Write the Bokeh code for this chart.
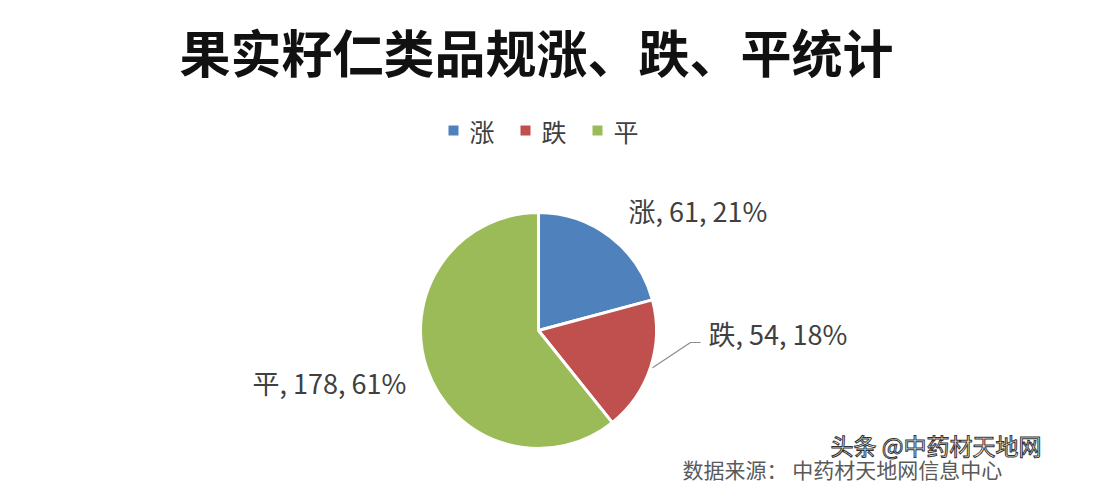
import math
from bokeh.plotting import figure
from bokeh.models import Range1d, ColumnDataSource
from bokeh.embed import file_html
from bokeh.resources import INLINE
from bokeh.core.properties import value

# ---- data ----
title_text = "果实籽仁类品规涨、跌、平统计"
categories = ["涨", "跌", "平"]
counts = [61, 54, 178]
colors = ["#4F81BD", "#C0504D", "#9BBB59"]
source_note = "数据来源： 中药材天地网信息中心"
watermark = "头条 @中药材天地网"

FONT = value("Noto Sans CJK SC")
W, H = 1084, 486


def px(x, y):
    # screenshot pixel -> data coordinates (y up)
    return (x, H - y)


p = figure(width=W, height=H, x_range=Range1d(0, W), y_range=Range1d(0, H),
           output_backend="svg", toolbar_location=None, min_border=0,
           x_axis_location=None, y_axis_location=None)
p.grid.visible = False
p.outline_line_color = None
p.background_fill_color = "white"
p.border_fill_color = "white"

# ---- title ----
tx, ty = px(536, 50)
p.text(x=[tx], y=[ty], text=[title_text], text_font=FONT, text_font_style="bold",
       text_font_size="51px", text_color="#111111", text_align="center",
       text_baseline="middle")

# ---- legend ----
lx0, ly = px(453, 130)
for i, (cat, col) in enumerate(zip(categories, colors)):
    x = lx0 + 72 * i
    p.rect(x=[x], y=[ly], width=10, height=10, fill_color=col, line_color=None)
    p.text(x=[x + 16], y=[ly], text=[cat], text_font=FONT, text_font_size="25px",
           text_color="#404040", text_align="left", text_baseline="middle")

# ---- pie ----
cx, cy = px(538, 330)
R = 118
total = sum(counts)
cum = [0]
for c in counts:
    cum.append(cum[-1] + c / total)
starts = [math.pi / 2 - 2 * math.pi * cum[i + 1] for i in range(len(counts))]
ends = [math.pi / 2 - 2 * math.pi * cum[i] for i in range(len(counts))]
src = ColumnDataSource(dict(start=starts, end=ends, color=colors))
p.wedge(x=cx, y=cy, radius=R, start_angle="start", end_angle="end",
        fill_color="color", line_color="white", line_width=3, source=src)

# ---- data labels ----
labels = [f"{cat}, {c}, {round(100 * c / total)}%" for cat, c in zip(categories, counts)]
mids = [(ends[i] + starts[i]) / 2 for i in range(len(counts))]
LBL = dict(text_font=FONT, text_font_size="27px", text_color="#404040",
           text_baseline="middle")

bx, by = px(628, 210)
p.text(x=[bx], y=[by], text=[labels[0]], text_align="left", **LBL)

ex, ey = cx + (R + 2) * math.cos(mids[1]), cy + (R + 2) * math.sin(mids[1])
rlx, rly = px(708, 333)
p.line(x=[ex, rlx - 18, rlx - 8], y=[ey, rly - 9, rly - 9], line_color="#8c8c8c", line_width=1.2)
p.text(x=[rlx], y=[rly], text=[labels[1]], text_align="left", **LBL)

glx, gly = px(252, 382)
p.text(x=[glx], y=[gly], text=[labels[2]], text_align="left", **LBL)

# ---- source note and watermark ----
sx, sy = px(682, 468)
p.text(x=[sx], y=[sy], text=[source_note], text_font=FONT, text_font_size="21px",
       text_color="#5a5a5a", text_align="left", text_baseline="middle")
wx, wy = px(830, 444)
p.text(x=[wx], y=[wy], text=[watermark], text_font=FONT, text_font_size="23px",
       text_color="white", text_outline_color="#333333", text_align="left",
       text_baseline="middle")

open("out.html", "w").write(file_html(p, INLINE))
